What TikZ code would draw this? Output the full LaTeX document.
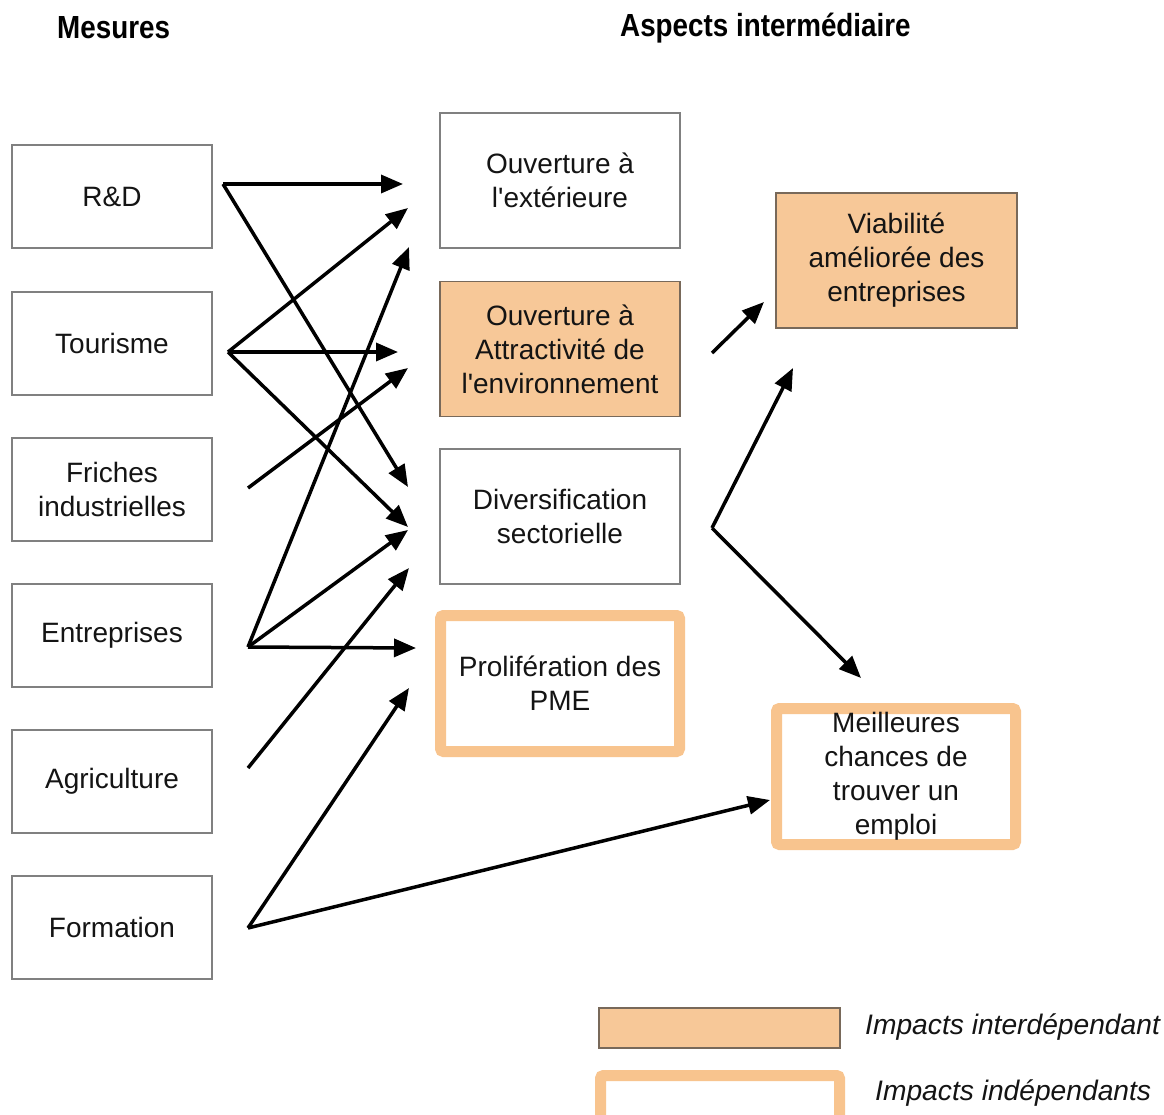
\documentclass[tikz,border=0pt]{standalone}
\usepackage{fontspec}
\setmainfont{Liberation Sans}
\usetikzlibrary{arrows.meta}

% straight apostrophe, set as a glyph so the TeX ligature mapping leaves it alone
\newcommand\sq{\XeTeXglyph\XeTeXcharglyph"27\relax}

\definecolor{peach}{RGB}{247,200,152}
\definecolor{peachline}{RGB}{248,196,142}
\definecolor{boxgray}{RGB}{128,128,128}
\definecolor{fillrule}{RGB}{120,105,90}
\definecolor{ink}{RGB}{20,20,20}

\tikzset{
  label/.style={font=\fontsize{28}{34}\selectfont, text=ink, align=center, inner sep=0pt},
  heading/.style={font=\fontsize{27.8}{30}\selectfont\bfseries, text=black, inner sep=0pt, anchor=west},
  legendtext/.style={font=\fontsize{28.2}{30}\selectfont\itshape, text=ink, inner sep=0pt, anchor=west},
  mesure/.style={label, draw=boxgray, line width=1.8pt, fill=white, minimum width=200, minimum height=103},
  aspect/.style={label, draw=boxgray, line width=1.8pt, fill=white, minimum width=240, minimum height=135},
  interdep/.style={label, draw=fillrule, line width=1.8pt, fill=peach},
  indep/.style={label, draw=peachline, line width=11pt, fill=white, rounded corners=3pt},
  link/.style={draw=black, line width=3.5pt, -{Triangle[length=22pt,width=18pt]}},
}

\begin{document}
\begin{tikzpicture}[x=1pt,y=-1pt]
  % canvas
  \fill[white] (0,0) rectangle (1164,1115);
  \useasboundingbox (0,0) rectangle (1164,1115);

  % column headings
  \node[heading] (h-mes) at (57,28) {\scalebox{1}[1.15]{Mesures}};
  \node[heading] (h-asp) at (620,28) {\scalebox{1}[1.15]{Aspects intermédiaire}};

  % measures
  \node[mesure] (rd)   at (112,196.5) {R\&D};
  \node[mesure] (tour) at (112,343.5) {Tourisme};
  \node[mesure] (fri)  at (112,489.5) {Friches\\industrielles};
  \node[mesure] (ent)  at (112,635.5) {Entreprises};
  \node[mesure] (agr)  at (112,781.5) {Agriculture};
  \node[mesure] (form) at (112,927.5) {Formation};

  % intermediate aspects
  \node[aspect] (ouv)  at (560,180.5) {Ouverture à\\l\sq extérieure};
  \node[aspect, interdep] (attr) at (560,349) {Ouverture à\\Attractivité de\\l\sq environnement};
  \node[aspect] (div)  at (560,516.5) {Diversification\\sectorielle};
  \node[indep, minimum width=239, minimum height=136] (pme) at (560,683.5) {Prolifération des\\PME};

  % outcomes
  \node[interdep, minimum width=241, minimum height=135] (viab) at (896.5,260.5) {Viabilité\\améliorée des\\entreprises};
  \node[indep, minimum width=239, minimum height=136] (emploi) at (896,776.5) {Meilleures\\chances de\\trouver un\\emploi};

  % arrow origins
  \coordinate (rd-o)   at (223,184);
  \coordinate (tour-o) at (228,352);
  \coordinate (fri-o)  at (248,488);
  \coordinate (ent-o)  at (248,647);
  \coordinate (agr-o)  at (248,768);
  \coordinate (form-o) at (248,928);
  \coordinate (attr-o) at (712,353);
  \coordinate (div-o)  at (712,528);

  % arrow tips
  \coordinate (ouv-a)  at (403,184);
  \coordinate (ouv-b)  at (408,208);
  \coordinate (ouv-c)  at (409,247);
  \coordinate (attr-a) at (398,352);
  \coordinate (attr-b) at (408,368);
  \coordinate (div-a)  at (408,487);
  \coordinate (div-b)  at (408,527);
  \coordinate (div-c)  at (408,530);
  \coordinate (div-d)  at (409,568);
  \coordinate (pme-a)  at (416,648);
  \coordinate (pme-b)  at (409,688);
  \coordinate (viab-a) at (764,302);
  \coordinate (viab-b) at (793,368);
  \coordinate (emp-a)  at (861,678);
  \coordinate (emp-b)  at (770,800);

  % connectors
  \draw[link] (rd-o) -- (ouv-a);
  \draw[link] (rd-o) -- (div-a);
  \draw[link] (tour-o) -- (ouv-b);
  \draw[link] (tour-o) -- (attr-a);
  \draw[link] (tour-o) -- (div-b);
  \draw[link] (fri-o) -- (attr-b);
  \draw[link] (ent-o) -- (ouv-c);
  \draw[link] (ent-o) -- (div-c);
  \draw[link] (ent-o) -- (pme-a);
  \draw[link] (agr-o) -- (div-d);
  \draw[link] (form-o) -- (pme-b);
  \draw[link] (form-o) -- (emp-b);
  \draw[link] (attr-o) -- (viab-a);
  \draw[link] (div-o) -- (viab-b);
  \draw[link] (div-o) -- (emp-a);

  % legend
  \node[interdep, minimum width=241, minimum height=40] (leg-inter) at (719.5,1028) {};
  \node[legendtext] (leg-inter-t) at (865,1027) {Impacts interdépendant};
  \node[indep, minimum width=239, minimum height=46] (leg-indep) at (720,1098.5) {};
  \node[legendtext] (leg-indep-t) at (875,1093) {Impacts indépendants};
\end{tikzpicture}
\end{document}
